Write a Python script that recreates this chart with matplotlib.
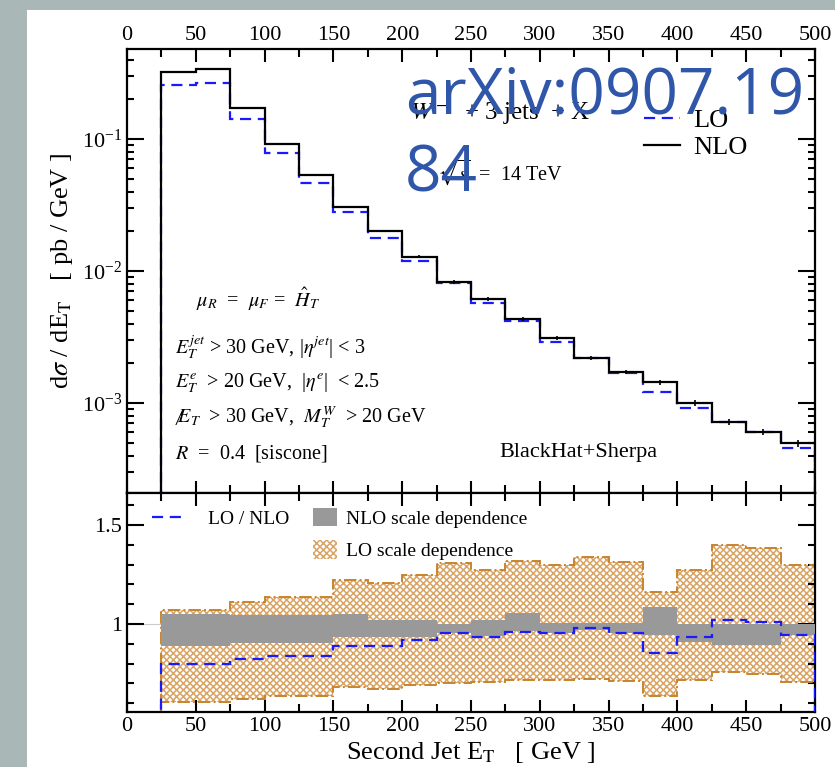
import numpy as np
import matplotlib
matplotlib.use("Agg")
import matplotlib.pyplot as plt
from matplotlib.patches import Patch, Rectangle
from matplotlib.lines import Line2D
from matplotlib.ticker import MultipleLocator, FuncFormatter, LogLocator, NullFormatter

plt.rcParams['font.family'] = ['Liberation Serif', 'DejaVu Serif']
plt.rcParams['mathtext.fontset'] = 'stix'
plt.rcParams['hatch.linewidth'] = 1.1

# bin edges, second jet E_T [GeV]
edges = np.arange(25, 501, 25)

# d sigma / dE_T [pb/GeV]
nlo = [0.322, 0.339, 0.172, 0.0916, 0.0534, 0.0306, 0.0201, 0.0128, 0.00826, 0.00614,
       0.00433, 0.00310, 0.00219, 0.00172, 0.00144, 0.00100, 0.000718, 0.000603, 0.000498]
lo = [0.2566, 0.2655, 0.1418, 0.0783, 0.0464, 0.0280, 0.0178, 0.0119, 0.00811, 0.00573,
      0.00418, 0.00290, 0.00219, 0.00169, 0.00121, 0.000916, 0.000718, 0.000603, 0.000456]
# relative integration errors on NLO
nlo_relerr = [0.01, 0.01, 0.01, 0.01, 0.015, 0.02, 0.02, 0.025, 0.03, 0.03,
              0.035, 0.035, 0.04, 0.04, 0.045, 0.05, 0.05, 0.055, 0.06]

# lower panel
ratio = [0.80, 0.80, 0.823, 0.84, 0.84, 0.89, 0.89, 0.922, 0.955, 0.936,
         0.962, 0.953, 0.978, 0.953, 0.852, 0.936, 1.02, 1.012, 0.944]
nlo_band_hi = [1.05, 1.05, 1.045, 1.045, 1.045, 1.052, 1.02, 1.022, 1.0, 1.022,
               1.054, 1.005, 1.003, 1.003, 1.086, 1.002, 1.002, 1.002, 1.002]
nlo_band_lo = [0.888, 0.888, 0.906, 0.906, 0.906, 0.936, 0.936, 0.936, 0.954, 0.938,
               0.965, 0.953, 0.97, 0.953, 0.944, 0.91, 0.894, 0.894, 0.944]
lo_band_hi = [1.07, 1.07, 1.113, 1.137, 1.137, 1.222, 1.208, 1.25, 1.31, 1.275,
              1.318, 1.298, 1.34, 1.315, 1.16, 1.273, 1.40, 1.384, 1.298]
lo_band_lo = [0.605, 0.605, 0.622, 0.637, 0.637, 0.68, 0.672, 0.69, 0.70, 0.71,
              0.717, 0.717, 0.725, 0.715, 0.636, 0.72, 0.76, 0.75, 0.706]

blue = '#1a1aff'
orange = '#c8842f'
hatch_col = '#d9a464'

fig = plt.figure(figsize=(8.35, 7.67), dpi=100)
fig.patch.set_facecolor('#a9b8b6')
bg = Rectangle((27 / 835, 0), 1, 1 - 10 / 767, transform=fig.transFigure,
               facecolor='white', edgecolor='none')
bg.set_zorder(-10)
fig.add_artist(bg)

left, width = 127 / 835, 688 / 835
ax = fig.add_axes([left, 1 - 493 / 767, width, 444 / 767])
axr = fig.add_axes([left, 1 - 712 / 767, width, 219 / 767], sharex=ax)

# ---- upper panel
ax.stairs(lo, edges, baseline=1e-6, color=blue, lw=1.6, ls=(0, (5, 3)), label='LO')
ax.stairs(nlo, edges, baseline=1e-6, color='black', lw=1.6, label='NLO')
centers = 0.5 * (edges[1:] + edges[:-1])
ax.errorbar(centers, nlo, yerr=np.array(nlo) * np.array(nlo_relerr), fmt='none',
            ecolor='black', elinewidth=1.2)
ax.set_yscale('log')
ax.set_xlim(0, 500)
ax.set_ylim(2.08e-4, 0.481)
ax.set_ylabel(r'd$\sigma$ / dE$_{\rm T}$   [ pb / GeV ]', fontsize=19, labelpad=5)

ax.text(206, 0.158, r'$W^-$  + 3 jets  + X', fontsize=18, va='center')
ax.text(225, 0.056, r'$\sqrt{s}$  =  14 TeV', fontsize=14.5, va='center')
ax.legend(loc='upper left', bbox_to_anchor=(0.733, 0.895), frameon=False, fontsize=19,
          handlelength=1.33, handletextpad=0.5, labelspacing=0.12, borderpad=0)

block = [
    (0.435, r'$\mu_R$  =  $\mu_F$ =  $\hat{H}_T$', 0.1),
    (0.329, r'$E_T^{jet}$ > 30 GeV, |$\eta^{jet}$| < 3', 0.07),
    (0.248, r'$E_T^{e}$  > 20 GeV,  |$\eta^{e}$|  < 2.5', 0.07),
    (0.171, r'$\not\!\!E_T$  > 30 GeV,  $M_T^W$  > 20 GeV', 0.07),
    (0.090, r'$R$  =  0.4  [siscone]', 0.07),
]
for yy, s, xx in block:
    ax.text(xx, yy, s, transform=ax.transAxes, fontsize=14.5, va='center')
ax.text(0.541, 0.092, 'BlackHat+Sherpa', transform=ax.transAxes, fontsize=16, va='center')

# ---- lower panel
axr.fill_between(edges, np.append(lo_band_lo, lo_band_lo[-1]), np.append(lo_band_hi, lo_band_hi[-1]),
                 step='post', facecolor='white', edgecolor=hatch_col, hatch='xxxxx', lw=0, zorder=1)
axr.stairs(lo_band_hi, edges, color=orange, lw=1.4, ls='-.', zorder=2)
axr.stairs(lo_band_lo, edges, color=orange, lw=1.4, ls='-.', zorder=2)
axr.fill_between(edges, np.append(nlo_band_lo, nlo_band_lo[-1]), np.append(nlo_band_hi, nlo_band_hi[-1]),
                 step='post', facecolor='#999999', edgecolor='none', lw=0, zorder=3)
axr.stairs(ratio, edges, baseline=0.3, color=blue, lw=1.6, ls=(0, (5, 3)), zorder=4)
axr.axhline(1.0, xmin=0, xmax=25 / 500, color='#cccccc', lw=0.8, zorder=0)
axr.set_ylim(0.556, 1.662)
axr.set_xlabel(r'Second Jet E$_{\rm T}$   [ GeV ]', fontsize=19, labelpad=3)

leg1 = axr.legend([Line2D([], [], color=blue, lw=1.6, ls=(0, (5, 3, 5, 3, 1, 3)))], ['LO / NLO'],
                  loc='upper left', bbox_to_anchor=(0.022, 0.965), frameon=False, fontsize=14,
                  handlelength=1.7, handletextpad=1.2, borderpad=0)
axr.add_artist(leg1)
axr.legend([Patch(facecolor='#999999', edgecolor='none'),
            Patch(facecolor='white', edgecolor=hatch_col, hatch='xxxxx', lw=0)],
           ['NLO scale dependence', 'LO scale dependence'],
           loc='upper left', bbox_to_anchor=(0.256, 0.975), frameon=False, fontsize=14,
           handlelength=1.24, handleheight=1.05, handletextpad=0.45, labelspacing=0.65, borderpad=0)

# ---- axes styling
for a in (ax, axr):
    for sp in a.spines.values():
        sp.set_linewidth(1.6)
    a.xaxis.set_major_locator(MultipleLocator(50))
    a.xaxis.set_minor_locator(MultipleLocator(25))
    a.tick_params(axis='both', which='both', direction='in', top=True, right=True, width=1.5,
                  labelsize=16)
    a.tick_params(axis='x', which='major', length=9)
    a.tick_params(axis='x', which='minor', length=6)
    a.tick_params(axis='y', which='major', length=12)
    a.tick_params(axis='y', which='minor', length=5)

ax.tick_params(axis='x', labeltop=True, labelbottom=False, pad=3)
ax.yaxis.set_major_locator(LogLocator(base=10, numticks=10))
ax.yaxis.set_minor_locator(LogLocator(base=10, subs=np.arange(2, 10), numticks=10))
ax.yaxis.set_minor_formatter(NullFormatter())
axr.yaxis.set_major_locator(MultipleLocator(0.5))
axr.yaxis.set_minor_locator(MultipleLocator(0.1))
axr.yaxis.set_major_formatter(FuncFormatter(lambda v, p: '%g' % v))

# watermark overlay from the screenshot
fig.text(405 / 835, 1 - 97 / 767, 'arXiv:0907.19', fontsize=46, color='#2f56a8',
         family='Open Sans', va='center', ha='left', zorder=10)
fig.text(405 / 835, 1 - 174 / 767, '84', fontsize=46, color='#2f56a8',
         family='Open Sans', va='center', ha='left', zorder=10)

fig.savefig('out.png', dpi=100, facecolor=fig.get_facecolor())
